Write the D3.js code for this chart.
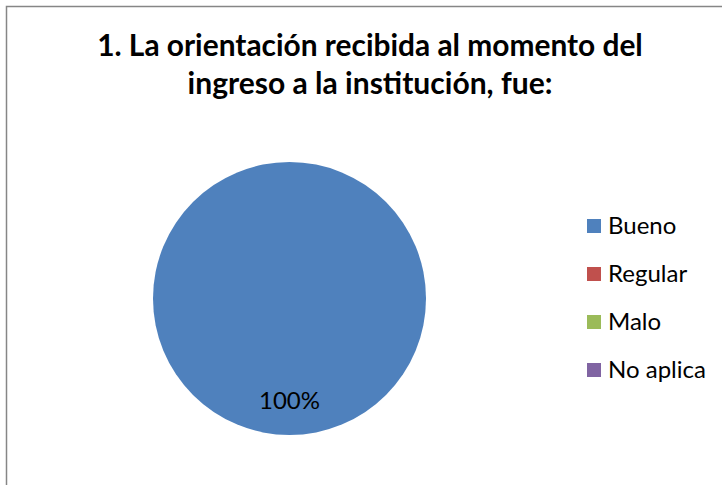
<!DOCTYPE html>
<html>
<head>
<meta charset="utf-8">
<script src="https://cdn.jsdelivr.net/npm/d3@7"></script>
<style>
  body { margin: 0; background: #fff; }
  text { font-family: Lato, "Open Sans", sans-serif; fill: #000; }
</style>
</head>
<body>
<script>
// chart data
var categories = ["Bueno", "Regular", "Malo", "No aplica"];
var values = [100, 0, 0, 0];
var colors = ["#4F81BD", "#C0504D", "#9BBB59", "#8064A2"];
var titleLines = ["1. La orientación recibida al momento del", "ingreso a la institución, fue:"];

var width = 722, height = 485;

var svg = d3.select("body").append("svg")
  .attr("width", width)
  .attr("height", height);

// outer chart border (right/bottom edges fall outside the picture)
svg.append("rect")
  .attr("x", 6.5).attr("y", 6.5)
  .attr("width", width + 10).attr("height", height + 10)
  .attr("fill", "#fff")
  .attr("stroke", "#868686")
  .attr("stroke-width", 1.5);

// title, sized so the lines match the reference widths
var titleY = [56, 94];
var titleW = [546, 365];
var title = svg.selectAll(".title")
  .data(titleLines)
  .enter().append("text")
  .attr("class", "title")
  .attr("x", 370)
  .attr("y", function(d, i) { return titleY[i]; })
  .attr("text-anchor", "middle")
  .style("font-weight", "bold")
  .style("font-size", "28px")
  .text(function(d) { return d; });
title.each(function(d, i) {
  var w = this.getComputedTextLength();
  d3.select(this).style("font-size", (28 * titleW[i] / w) + "px");
});

// pie
var cx = 289.5, cy = 298.5, r = 136.5;
var g = svg.append("g").attr("transform", "translate(" + cx + "," + cy + ")");

var pie = d3.pie().sort(null).value(function(d) { return d; });
var arcs = pie(values);
var arc = d3.arc().innerRadius(0).outerRadius(r);
var labelArc = d3.arc().innerRadius(r * 0.75).outerRadius(r * 0.75);

g.selectAll(".slice")
  .data(arcs)
  .enter().append("path")
  .attr("class", "slice")
  .attr("d", arc)
  .attr("fill", function(d, i) { return colors[i]; });

var total = d3.sum(values);
g.selectAll(".lbl")
  .data(arcs.filter(function(d) { return d.value > 0; }))
  .enter().append("text")
  .attr("class", "lbl")
  .attr("transform", function(d) { return "translate(" + labelArc.centroid(d) + ")"; })
  .attr("dy", "0.35em")
  .attr("text-anchor", "middle")
  .style("font-size", "24px")
  .text(function(d) { return Math.round(d.value / total * 100) + "%"; });

// legend
var legend = svg.selectAll(".legend")
  .data(categories)
  .enter().append("g")
  .attr("class", "legend")
  .attr("transform", function(d, i) { return "translate(587," + (219 + i * 48) + ")"; });

legend.append("rect")
  .attr("width", 14).attr("height", 14)
  .attr("fill", function(d, i) { return colors[i]; });

legend.append("text")
  .attr("x", 21)
  .attr("y", 15)
  .style("font-size", "24px")
  .text(function(d) { return d; });
</script>
</body>
</html>
